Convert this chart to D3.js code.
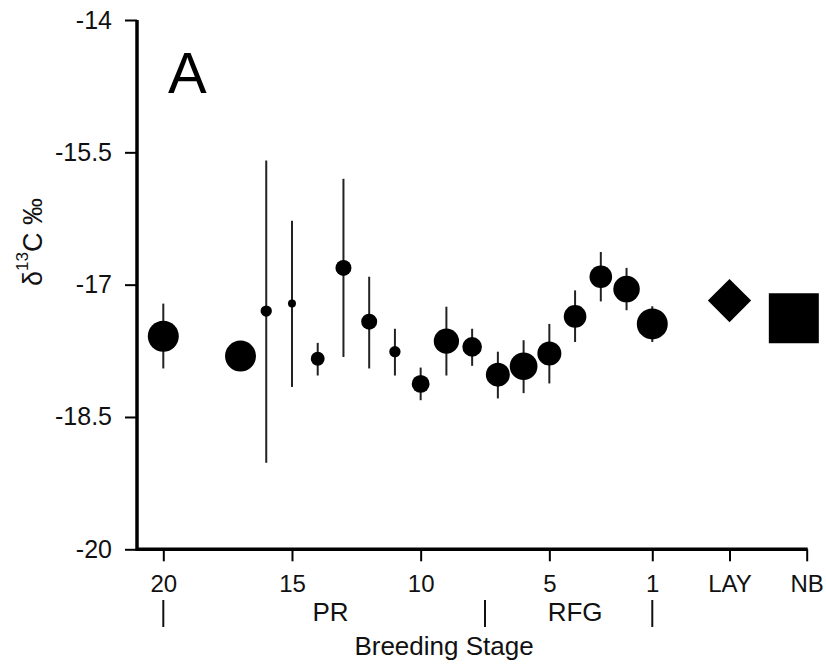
<!DOCTYPE html>
<html>
<head>
<meta charset="utf-8">
<script src="https://cdn.jsdelivr.net/npm/d3@7/dist/d3.min.js"></script>
<style>
  html, body { margin: 0; padding: 0; background: #fff; }
  svg { display: block; font-family: "Liberation Sans", Arial, sans-serif; }
</style>
</head>
<body>
<svg id="chart" width="826" height="667"></svg>
<script>
// ---------- data ----------
const stages = [20, 17, 16, 15, 14, 13, 12, 11, 10, 9, 8, 7, 6, 5, 4, 3, 2, 1];
const means  = [-17.585, -17.81, -17.30, -17.215, -17.84, -16.81, -17.42, -17.76, -18.125, -17.64, -17.705, -18.02, -17.925, -17.78, -17.36, -16.91, -17.05, -17.445];
const lowers = [-17.95, -17.93, -19.02, -18.16, -18.03, -17.82, -17.95, -18.03, -18.31, -18.03, -17.92, -18.29, -18.23, -18.12, -17.65, -17.19, -17.29, -17.65];
const uppers = [-17.215, -17.69, -15.593, -16.276, -17.66, -15.80, -16.91, -17.50, -17.94, -17.25, -17.50, -17.76, -17.63, -17.445, -17.065, -16.63, -16.81, -17.245];
const sampleSizes = [15, 15, 2, 1, 3, 4, 4, 2, 5, 10, 6, 9, 12, 9, 8, 8, 11, 15];

const layStage = -2, layMean = -17.18;
const nbStage = -4.5, nbMean = -17.38;

const xTickValues = [20, 15, 10, 5, 1, -2, -5];
const xTickLabels = ["20", "15", "10", "5", "1", "LAY", "NB"];
const yTickValues = [-14, -15.5, -17, -18.5, -20];

const groupBounds = [20, 7.5, 1];
const groupLabels = ["PR", "RFG"];
const groupLabelStages = [13.5, 4];

// ---------- layout ----------
const svg = d3.select("#chart");
const x = d3.scaleLinear().domain([20, -5]).range([163.3, 806.7]);
const y = d3.scaleLinear().domain([-20, -14]).range([549.3, 20]);
const r = d3.scaleSqrt().domain([0, 16]).range([0, 16]);
const axisX0 = 137;

// axes
const yAxis = d3.axisLeft(y).tickValues(yTickValues).tickSize(12).tickSizeOuter(0)
  .tickPadding(13).tickFormat(d => String(d));
const gy = svg.append("g").attr("transform", `translate(${axisX0},0)`).call(yAxis);
gy.select(".domain").remove();
gy.selectAll(".tick line").attr("stroke", "#000").attr("stroke-width", 2);
gy.selectAll(".tick text").attr("font-size", 25).attr("font-family", "Liberation Sans, Arial, sans-serif").attr("fill", "#111");

const xAxis = d3.axisBottom(x).tickValues(xTickValues).tickSize(12).tickSizeOuter(0)
  .tickPadding(14).tickFormat((d, i) => xTickLabels[i]);
const gx = svg.append("g").attr("transform", `translate(0,${y(-20)})`).call(xAxis);
gx.select(".domain").remove();
gx.selectAll(".tick line").attr("stroke", "#000").attr("stroke-width", 2);
gx.selectAll(".tick text").attr("font-size", 24).attr("font-family", "Liberation Sans, Arial, sans-serif").attr("fill", "#111");

// axis lines
svg.append("line").attr("x1", axisX0).attr("x2", axisX0).attr("y1", y(-14)).attr("y2", y(-20) + 1.75)
  .attr("stroke", "#000").attr("stroke-width", 3.5);
svg.append("line").attr("x1", axisX0).attr("x2", x(-5) + 1).attr("y1", y(-20)).attr("y2", y(-20))
  .attr("stroke", "#000").attr("stroke-width", 3.5);

// group row
svg.selectAll("line.gb").data(groupBounds).enter().append("line")
  .attr("class", "gb").attr("x1", d => x(d)).attr("x2", d => x(d))
  .attr("y1", 600).attr("y2", 627).attr("stroke", "#111").attr("stroke-width", 2);
svg.selectAll("text.gl").data(groupLabels).enter().append("text")
  .attr("class", "gl").attr("x", (d, i) => x(groupLabelStages[i])).attr("y", 621)
  .attr("text-anchor", "middle").attr("font-size", 26).attr("fill", "#111").text(d => d);

svg.append("text").attr("x", 444).attr("y", 655).attr("text-anchor", "middle")
  .attr("font-size", 26).attr("fill", "#111").text("Breeding Stage");

// y label
const yl = svg.append("text").attr("transform", "translate(41.5,242) rotate(-90)")
  .attr("text-anchor", "middle").attr("font-size", 27).attr("fill", "#111");
yl.append("tspan").text("δ");
yl.append("tspan").attr("font-size", 17).attr("dy", -14).text("13");
yl.append("tspan").attr("dy", 14).text("C ‰");

// panel letter
svg.append("text").attr("x", 168).attr("y", 93).attr("font-size", 58).attr("fill", "#000").text("A");

// data
const pts = stages.map((s, i) => ({ s, m: means[i], lo: lowers[i], hi: uppers[i], n: sampleSizes[i] }));
svg.selectAll("line.err").data(pts).enter().append("line")
  .attr("class", "err").attr("x1", d => x(d.s)).attr("x2", d => x(d.s))
  .attr("y1", d => y(d.hi)).attr("y2", d => y(d.lo))
  .attr("stroke", "#222").attr("stroke-width", 2);
svg.selectAll("circle.pt").data(pts).enter().append("circle")
  .attr("class", "pt").attr("cx", d => x(d.s)).attr("cy", d => y(d.m)).attr("r", d => r(d.n))
  .attr("fill", "#000");

// LAY diamond
svg.append("path")
  .attr("d", d3.symbol().type(d3.symbolSquare).size(30.6 * 30.6)())
  .attr("transform", `translate(${x(layStage)},${y(layMean)}) rotate(45)`)
  .attr("fill", "#000");
// NB square
svg.append("path")
  .attr("d", d3.symbol().type(d3.symbolSquare).size(50 * 50)())
  .attr("transform", `translate(${x(nbStage)},${y(nbMean)})`)
  .attr("fill", "#000");
</script>
</body>
</html>
